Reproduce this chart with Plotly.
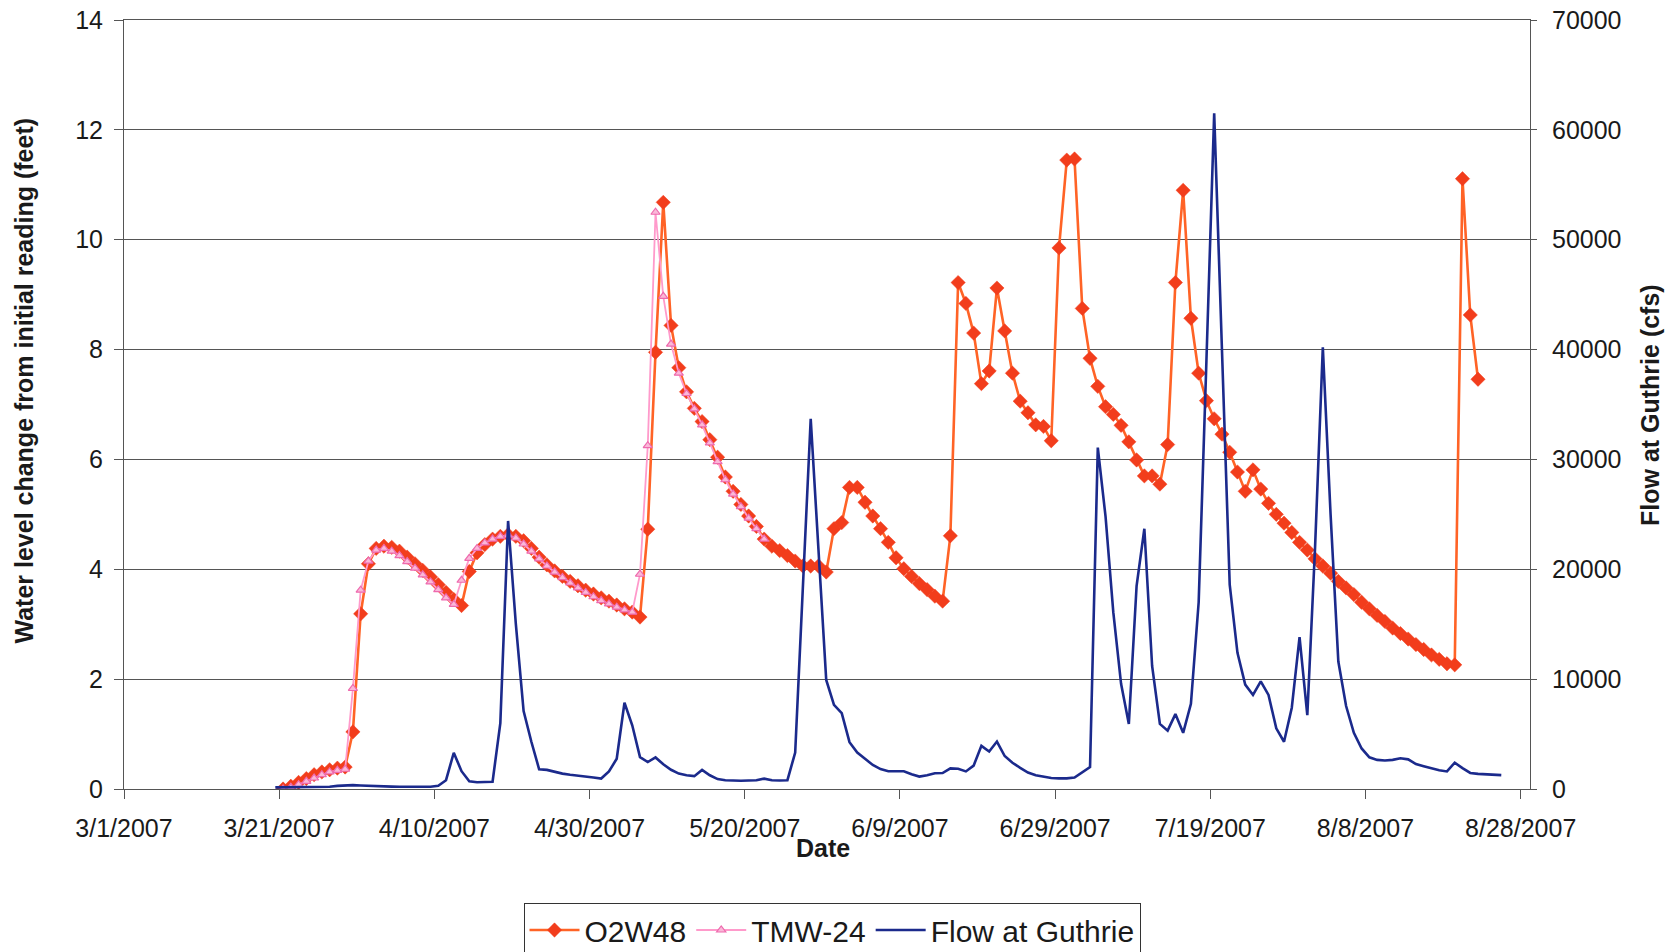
import pandas as pd
import plotly.graph_objects as go

# ---------------- data (daily readings) ----------------
o2w48_start = "2007-03-21"
o2w48_ft = [
    0.00, 0.05, 0.12, 0.19, 0.26, 0.31, 0.35, 0.38, 0.40,
    1.04, 3.19, 4.10,
    4.38, 4.42, 4.40, 4.33, 4.22, 4.10, 3.98, 3.86, 3.72, 3.58, 3.45, 3.34,
    3.96, 4.30, 4.45, 4.55, 4.60, 4.63, 4.60, 4.52, 4.38, 4.22, 4.08, 3.97,
    3.87, 3.78, 3.70, 3.62, 3.55, 3.48, 3.42, 3.35, 3.28, 3.22, 3.13,
    4.73, 7.95, 10.68, 8.44, 7.67, 7.23, 6.93, 6.69, 6.36, 6.04, 5.68, 5.42,
    5.18, 4.97, 4.78, 4.55, 4.42, 4.34, 4.25, 4.15, 4.06, 4.06, 4.06, 3.95,
    4.74, 4.85, 5.49, 5.49, 5.22, 4.97, 4.74, 4.49, 4.21, 4.01, 3.87, 3.74,
    3.63, 3.51, 3.42,
    4.61, 9.22, 8.84, 8.30, 7.38, 7.61, 9.12, 8.34, 7.57, 7.06, 6.85, 6.63,
    6.60, 6.34,
    9.85, 11.45, 11.47, 8.75, 7.84, 7.33, 6.96, 6.82, 6.62, 6.32, 5.99, 5.70,
    5.70, 5.55,
    6.27, 9.22, 10.90, 8.57, 7.57, 7.07, 6.74, 6.46, 6.13, 5.77, 5.42, 5.81,
    5.46, 5.20, 5.00,
    4.84, 4.67, 4.49, 4.35, 4.19, 4.06, 3.93, 3.78, 3.66, 3.54, 3.40, 3.28,
    3.16, 3.05, 2.93, 2.83, 2.73, 2.63, 2.54, 2.44, 2.36, 2.28, 2.26,
    11.11, 8.63, 7.46,
]

tmw24_start = "2007-03-21"
tmw24_ft = [
    0.00, 0.03, 0.08, 0.14, 0.20, 0.26, 0.31, 0.34, 0.36,
    1.83, 3.62, 4.15,
    4.35, 4.38, 4.33, 4.25, 4.14, 4.02, 3.90, 3.77, 3.63, 3.48, 3.36, 3.80,
    4.20, 4.38, 4.48, 4.55, 4.60, 4.62, 4.57, 4.46, 4.33, 4.19, 4.06, 3.95,
    3.85, 3.75, 3.66, 3.58, 3.50, 3.43, 3.37, 3.31, 3.26, 3.22,
    3.91, 6.25, 10.50, 8.97, 8.10, 7.57,
    7.20, 6.92, 6.63, 6.30, 5.96, 5.63, 5.37, 5.14, 4.93, 4.74, 4.55,
]

flow_start = "2007-03-20"
flow_cfs = [
    150, 150, 150, 150, 150, 150, 160, 200, 280, 330, 350, 320, 280, 250,
    230, 220, 210, 200, 200, 200, 210, 300, 800,
    3300, 1620, 700, 620, 640, 660, 6000, 24400, 15000, 7100, 4300, 1800,
    1740, 1550, 1400, 1300, 1230, 1150, 1050, 950, 1600, 2750, 7850, 5800,
    2900, 2450, 2870, 2250, 1750, 1400,
    1250, 1170, 1740, 1250, 900, 800, 760, 750, 780, 790, 940, 800, 780, 800,
    3320, 18500, 33700, 21800, 9930, 7660, 6900, 4260, 3320, 2750, 2190,
    1810, 1620, 1620, 1620,
    1350, 1130, 1250, 1430, 1450, 1880, 1840, 1600, 2130, 3930, 3420, 4320,
    3000, 2390, 1930, 1500, 1250, 1100, 1000, 970, 970, 1050, 1540, 1990,
    31080, 24790, 16070, 9570, 5920, 18500, 23690, 11200, 5920, 5310, 6820,
    5110, 7750, 17000, 39000, 61500, 40000, 18600, 12400, 9500, 8560, 9800,
    8560, 5520, 4300, 7400, 13830, 6730, 22000, 40200, 25000, 11600, 7550,
    5110, 3690,
    2880, 2650, 2600, 2650, 2800, 2700, 2270, 2070, 1870, 1700, 1600, 2390,
    1900, 1460, 1380, 1340, 1300, 1260,
]

x_tick_dates = ["2007-03-01", "2007-03-21", "2007-04-10", "2007-04-30",
                "2007-05-20", "2007-06-09", "2007-06-29", "2007-07-19",
                "2007-08-08", "2007-08-28"]
x_tick_labels = ["3/1/2007", "3/21/2007", "4/10/2007", "4/30/2007",
                 "5/20/2007", "6/9/2007", "6/29/2007", "7/19/2007",
                 "8/8/2007", "8/28/2007"]
y_left_ticks = [0, 2, 4, 6, 8, 10, 12, 14]
y_right_ticks = [0, 10000, 20000, 30000, 40000, 50000, 60000, 70000]


def daily(start, n):
    # each daily reading is centred in its day slot
    return pd.date_range(start, periods=n, freq="D") + pd.Timedelta(hours=12)


# ---------------- figure ----------------
W, H = 1675, 952
L, R, T, B = 124, 145, 20, 163
PW, PH = W - L - R, H - T - B

FONT = "Liberation Sans, Arial, Helvetica, sans-serif"
GRID = "#555555"
AXIS = "#555555"

fig = go.Figure()

fig.add_trace(go.Scatter(
    x=daily(o2w48_start, len(o2w48_ft)), y=o2w48_ft, name="O2W48",
    mode="lines+markers",
    line=dict(color="#FF6326", width=2.6),
    marker=dict(symbol="diamond", size=11, color="#F23D1C",
                line=dict(color="#F23D1C", width=0.5)),
    yaxis="y",
))
fig.add_trace(go.Scatter(
    x=daily(tmw24_start, len(tmw24_ft)), y=tmw24_ft, name="TMW-24",
    mode="lines+markers",
    line=dict(color="#FF9ACB", width=1.8),
    marker=dict(symbol="triangle-up", size=8, color="#FAB8D8",
                line=dict(color="#EE6AAE", width=1.2)),
    yaxis="y",
))
fig.add_trace(go.Scatter(
    x=daily(flow_start, len(flow_cfs)), y=flow_cfs, name="Flow at Guthrie",
    mode="lines",
    line=dict(color="#1B2A8C", width=2.6),
    yaxis="y2",
))


def px_x(p):
    return (p - L) / PW


def px_y(p):
    return (T + PH - p) / PH


fig.update_layout(
    width=W, height=H,
    margin=dict(l=L, r=R, t=T, b=B, pad=0, autoexpand=False),
    paper_bgcolor="white", plot_bgcolor="white",
    font=dict(family=FONT, size=25, color="#1a1a1a"),
    showlegend=True,
    legend=dict(
        orientation="h", x=px_x(832), xanchor="center",
        y=px_y(903), yanchor="top",
        bordercolor="#333333", borderwidth=1, bgcolor="white",
        font=dict(family=FONT, size=30, color="#1a1a1a"),
        traceorder="normal", itemwidth=50,
    ),
    xaxis=dict(
        type="date",
        range=["2007-03-01", "2007-08-29 04:48"],
        tickmode="array", tickvals=x_tick_dates, ticktext=x_tick_labels,
        ticks="outside", ticklen=9, tickcolor=AXIS, tickwidth=1,
        showline=True, linecolor=AXIS, linewidth=1, mirror=True,
        showgrid=False, zeroline=False, automargin=False,
        tickfont=dict(size=25), ticklabelstandoff=8,
    ),
    yaxis=dict(
        range=[0, 14], tickmode="array", tickvals=y_left_ticks,
        ticktext=[str(v) for v in y_left_ticks],
        ticks="outside", ticklen=9, tickcolor=AXIS,
        showline=True, linecolor=AXIS, linewidth=1,
        showgrid=True, gridcolor=GRID, gridwidth=1, zeroline=False,
        automargin=False,
        tickfont=dict(size=25), ticklabelstandoff=6,
    ),
    yaxis2=dict(
        overlaying="y", side="right",
        range=[0, 70000], tickmode="array", tickvals=y_right_ticks,
        ticktext=[str(v) for v in y_right_ticks],
        ticks="outside", ticklen=6, tickcolor=AXIS,
        showline=True, linecolor=AXIS, linewidth=1,
        showgrid=False, zeroline=False, automargin=False,
        tickfont=dict(size=25), ticklabelstandoff=10,
    ),
    annotations=[
        dict(text="<b>Water level change from initial reading (feet)</b>",
             xref="paper", yref="paper", x=px_x(23.5), y=px_y(381),
             xanchor="center", yanchor="middle", textangle=-90,
             showarrow=False, font=dict(size=25)),
        dict(text="<b>Flow at Guthrie (cfs)</b>",
             xref="paper", yref="paper", x=px_x(1650), y=px_y(405),
             xanchor="center", yanchor="middle", textangle=-90,
             showarrow=False, font=dict(size=25)),
        dict(text="<b>Date</b>",
             xref="paper", yref="paper", x=px_x(823), y=px_y(848),
             xanchor="center", yanchor="middle",
             showarrow=False, font=dict(size=25)),
    ],
)

fig.write_html("out.html")
